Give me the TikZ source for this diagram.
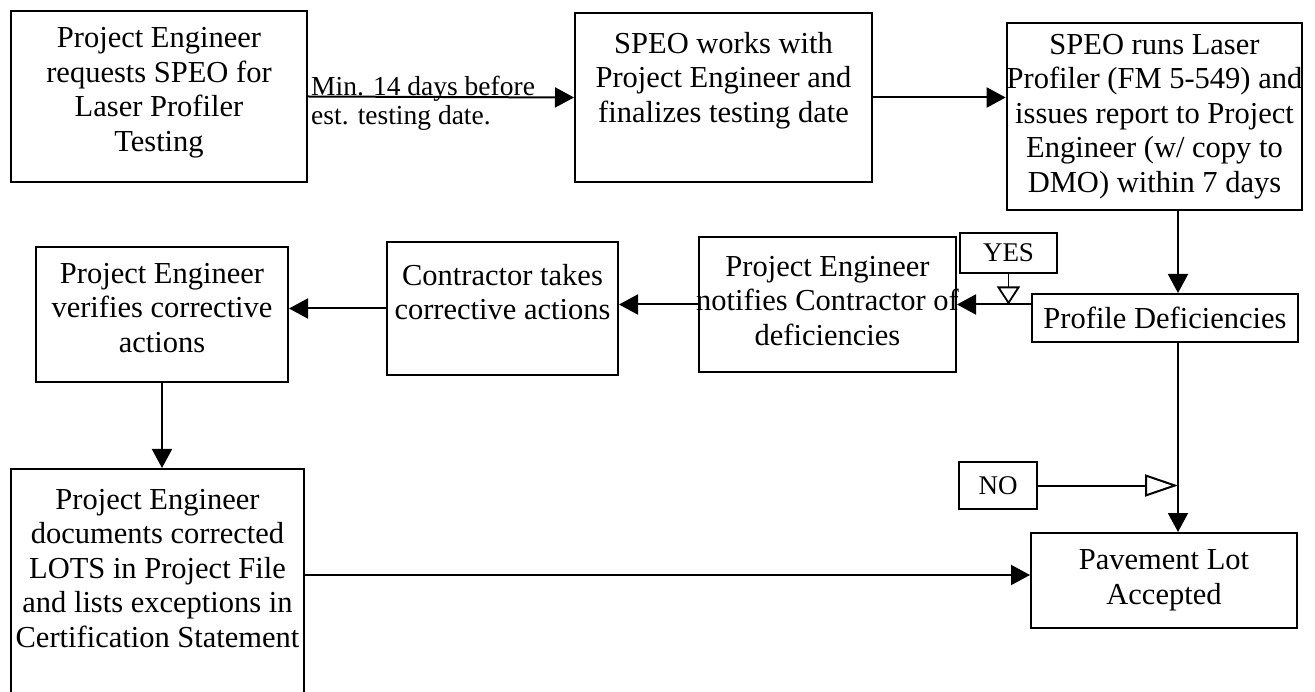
\documentclass[tikz,border=0pt]{standalone}
\usepackage{fontspec}
\setmainfont{Liberation Serif}
\usetikzlibrary{arrows.meta}
\newcommand{\btxt}[4]{\parbox[c][#2][t]{#1}{\centering\vspace*{#3}\strut #4\par}}
\begin{document}
\begin{tikzpicture}[x=1pt,y=-1pt,
  box/.style={draw, line width=2pt, inner sep=0pt, font=\fontsize{30.5}{34.5}\selectfont},
  cbox/.style={box, align=center},
  tag/.style={draw, line width=1.8pt, inner sep=0pt, align=center, font=\fontsize{27}{30}\selectfont},
  arr/.style={line width=2pt, -{Triangle[length=19pt,width=20pt]}},
  lbl/.style={anchor=north west, inner sep=0pt, align=left, font=\fontsize{27.5}{29}\selectfont}]
\path[use as bounding box] (0,0) rectangle (1315,692);
\clip (0,0) rectangle (1315,692);
\fill[white] (0,0) rectangle (1315,692);

\node[box] (b1) at (159,96.5) {\btxt{296pt}{171pt}{12.5pt}{Project Engineer\\requests SPEO for\\Laser Profiler\\Testing}};
\node[box] (b2) at (723.5,97.5) {\btxt{297pt}{169pt}{16pt}{SPEO works with\\Project Engineer and\\finalizes testing date}};
\node[cbox, minimum width=295pt, minimum height=187pt] (b3) at (1154.5,116.5) {SPEO runs Laser\\Profiler (FM 5-549) and\\issues report to Project\\Engineer (w/ copy to\\DMO) within 7 days};
\node[cbox, minimum width=266pt, minimum height=48pt] (pd) at (1165,318) {Profile Deficiencies};
\node[tag, minimum width=97pt, minimum height=40pt] (yes) at (1008.5,253) {YES};
\node[box] (nt) at (827.5,304.5) {\btxt{257pt}{135pt}{15pt}{Project Engineer\\\makebox[\linewidth]{notifies Contractor of}\\deficiencies}};
\node[box] (ct) at (502.5,308.5) {\btxt{231pt}{133pt}{19pt}{Contractor takes\\corrective actions}};
\node[box] (vf) at (162,314.5) {\btxt{252pt}{135pt}{12pt}{Project Engineer\\verifies corrective\\actions}};
\node[box] (dc) at (157.5,587) {\btxt{293pt}{236pt}{16pt}{Project Engineer\\documents corrected\\LOTS in Project File\\and lists exceptions in\\Certification Statement}};
\node[tag, minimum width=78pt, minimum height=47pt] (no) at (998,485.5) {NO};
\node[cbox, minimum width=266pt, minimum height=95pt] (pv) at (1164,580.5) {Pavement Lot\\Accepted};

\node[lbl] (lab) at (311,74.7) {\strut Min. 14 days before\\est. testing date.};

\coordinate (vx) at (1178,0);
\coordinate (ya) at (0,575);
\draw[arr] (b1.east) -- (b2.west);
\draw[arr] (b2.east) -- (b2.east -| b3.west);
\draw[arr] (b3.south -| vx) -- (pd.north -| vx);
\draw[arr] (pd.west |- nt.east) -- (nt.east);
\draw[arr] (nt.west) -- (nt.west -| ct.east);
\draw[arr] (ct.west) -- (ct.west -| vf.east);
\draw[arr] (vf.south) -- (vf.south |- dc.north);
\draw[arr] (dc.east |- ya) -- (pv.west |- ya);
\draw[arr] (pd.south -| vx) -- (pv.north -| vx);
\draw[line width=1.8pt, -{Triangle[open,length=18pt,width=23pt]}] (yes.south) -- (yes.south |- nt.east);
\draw[line width=2pt, -{Triangle[open,length=33pt,width=22pt]}] (no.east) -- (no.east -| vx);
\end{tikzpicture}
\end{document}
